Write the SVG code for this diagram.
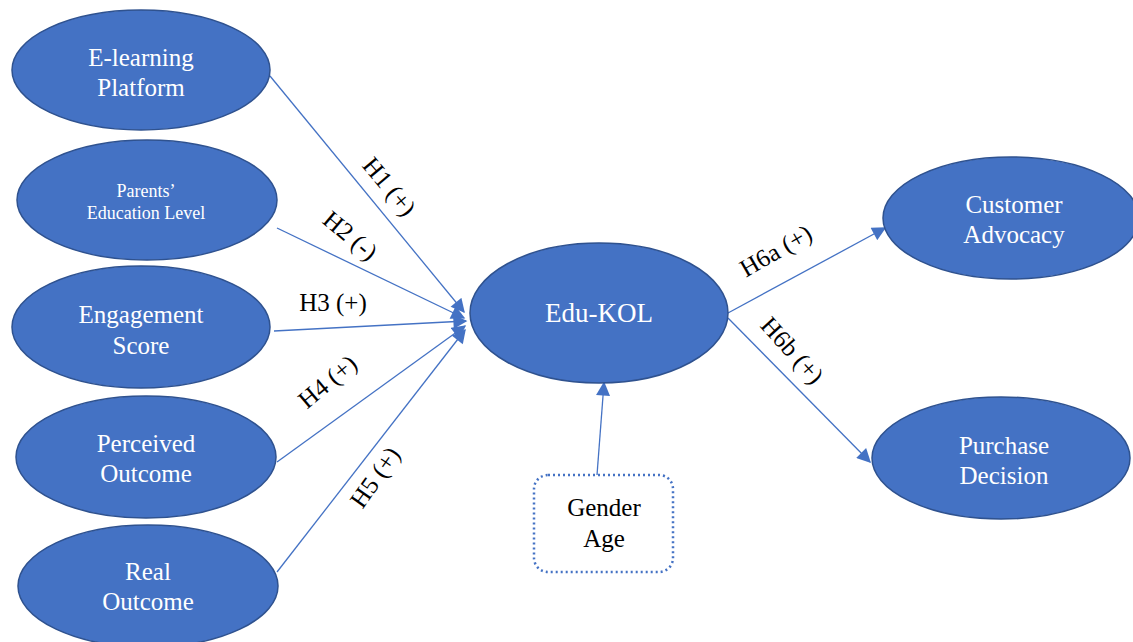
<svg xmlns="http://www.w3.org/2000/svg" width="1133" height="642" viewBox="0 0 1133 642">
<style>
.node ellipse{fill:#4472C4;stroke:#2F528F;stroke-width:1.5}
.nt{font-family:'Liberation Serif','Times New Roman','DejaVu Serif',serif;font-size:25px;fill:#fff;text-anchor:middle}
.st{font-size:18px}
.lbl{font-family:'Liberation Serif','Times New Roman','DejaVu Serif',serif;font-size:25px;fill:#000;text-anchor:middle}
.conn line{stroke:#4472C4;stroke-width:1.3}
</style>
<defs>
<marker id="ah" viewBox="0 0 10 10" refX="9" refY="5" markerWidth="15" markerHeight="14" markerUnits="userSpaceOnUse" orient="auto">
<path d="M0,0 L10,5 L0,10 z" fill="#4472C4"/>
</marker>
</defs>
<rect width="1133" height="642" fill="#fff"/>
<g class="conn">
<line x1="270" y1="76" x2="464" y2="312" marker-end="url(#ah)"/>
<line x1="277" y1="228" x2="464" y2="318" marker-end="url(#ah)"/>
<line x1="274" y1="331" x2="466" y2="321" marker-end="url(#ah)"/>
<line x1="277" y1="462" x2="465" y2="326" marker-end="url(#ah)"/>
<line x1="277" y1="572" x2="465" y2="330" marker-end="url(#ah)"/>
<line x1="728" y1="313" x2="885" y2="228" marker-end="url(#ah)"/>
<line x1="728" y1="318" x2="870" y2="462" marker-end="url(#ah)"/>
<line x1="597" y1="475" x2="604" y2="383" marker-end="url(#ah)"/>
</g>
<g id="labels">
<text class="lbl" transform="translate(383,192) rotate(50)">H1 (+)</text>
<text class="lbl" transform="translate(345,242) rotate(40)">H2 (-)</text>
<text class="lbl" x="333" y="311">H3 (+)</text>
<text class="lbl" transform="translate(333,388) rotate(-40)">H4 (+)</text>
<text class="lbl" transform="translate(382,482) rotate(-55)">H5 (+)</text>
<text class="lbl" transform="translate(780,258) rotate(-30)">H6a (+)</text>
<text class="lbl" transform="translate(786,356) rotate(48)">H6b (+)</text>
</g>
<g id="n-elearning" class="node"><ellipse cx="141" cy="70" rx="129" ry="60"/><text class="nt" x="141" y="66">E-learning</text><text class="nt" x="141" y="96">Platform</text></g>
<g id="n-parents" class="node"><ellipse cx="147" cy="200" rx="130" ry="60"/><text class="nt st" x="146" y="197">Parents’</text><text class="nt st" x="146" y="219">Education Level</text></g>
<g id="n-engagement" class="node"><ellipse cx="141" cy="327" rx="129" ry="61"/><text class="nt" x="141" y="323">Engagement</text><text class="nt" x="141" y="354">Score</text></g>
<g id="n-perceived" class="node"><ellipse cx="146" cy="457" rx="130" ry="61"/><text class="nt" x="146" y="452">Perceived</text><text class="nt" x="146" y="482">Outcome</text></g>
<g id="n-real" class="node"><ellipse cx="148" cy="586" rx="130" ry="61"/><text class="nt" x="148" y="580">Real</text><text class="nt" x="148" y="610">Outcome</text></g>
<g id="n-edukol" class="node"><ellipse cx="599" cy="313" rx="129" ry="70"/><text class="nt" x="599" y="322" style="font-size:27px">Edu-KOL</text></g>
<g id="n-advocacy" class="node"><ellipse cx="1011" cy="218" rx="128" ry="61"/><text class="nt" x="1014" y="213">Customer</text><text class="nt" x="1014" y="243">Advocacy</text></g>
<g id="n-purchase" class="node"><ellipse cx="1001" cy="458" rx="129" ry="61"/><text class="nt" x="1004" y="454">Purchase</text><text class="nt" x="1004" y="484">Decision</text></g>
<g id="n-gender"><rect x="534" y="475" width="139" height="97" rx="14" fill="#fff" stroke="#4472C4" stroke-width="2.5" stroke-dasharray="2 3"/><text class="lbl" x="604" y="516">Gender</text><text class="lbl" x="604" y="547">Age</text></g>
</svg>
